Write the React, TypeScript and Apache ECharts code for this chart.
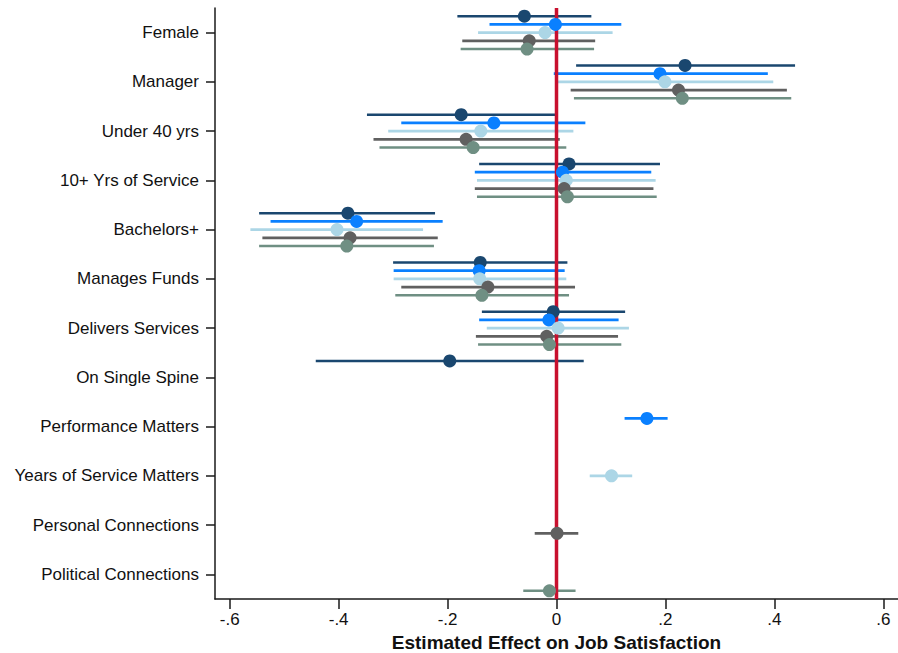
import React, { useEffect, useRef } from "react";
import * as echarts from "echarts";

const categories = [
  "Female",
  "Manager",
  "Under 40 yrs",
  "10+ Yrs of Service",
  "Bachelors+",
  "Manages Funds",
  "Delivers Services",
  "On Single Spine",
  "Performance Matters",
  "Years of Service Matters",
  "Personal Connections",
  "Political Connections",
];

const xTickValues = [-0.6, -0.4, -0.2, 0, 0.2, 0.4, 0.6];
const axisTitle = "Estimated Effect on Job Satisfaction";

const seriesNames = ["Model 1", "Model 2", "Model 3", "Model 4", "Model 5"];

// Model 1 (navy)
const m1Est = [-0.059, 0.236, -0.175, 0.023, -0.383, -0.14, -0.006, -0.196, null, null, null, null];
const m1Lo = [-0.182, 0.036, -0.348, -0.142, -0.546, -0.3, -0.137, -0.442, null, null, null, null];
const m1Hi = [0.064, 0.438, -0.002, 0.19, -0.223, 0.02, 0.126, 0.05, null, null, null, null];

// Model 2 (bright blue)
const m2Est = [-0.002, 0.19, -0.115, 0.011, -0.367, -0.142, -0.014, null, 0.166, null, null, null];
const m2Lo = [-0.123, -0.005, -0.285, -0.15, -0.525, -0.299, -0.142, null, 0.125, null, null, null];
const m2Hi = [0.119, 0.388, 0.053, 0.174, -0.209, 0.015, 0.114, null, 0.204, null, null, null];

// Model 3 (light blue)
const m3Est = [-0.021, 0.199, -0.139, 0.018, -0.403, -0.141, 0.003, null, null, 0.101, null, null];
const m3Lo = [-0.144, 0.0, -0.309, -0.146, -0.562, -0.299, -0.128, null, null, 0.061, null, null];
const m3Hi = [0.103, 0.398, 0.031, 0.182, -0.245, 0.018, 0.133, null, null, 0.139, null, null];

// Model 4 (dark gray)
const m4Est = [-0.05, 0.224, -0.166, 0.014, -0.379, -0.126, -0.018, null, null, null, 0.001, null];
const m4Lo = [-0.173, 0.026, -0.336, -0.15, -0.54, -0.285, -0.148, null, null, null, -0.04, null];
const m4Hi = [0.071, 0.423, 0.006, 0.178, -0.218, 0.034, 0.113, null, null, null, 0.04, null];

// Model 5 (gray-green)
const m5Est = [-0.054, 0.231, -0.153, 0.02, -0.385, -0.137, -0.013, null, null, null, null, -0.013];
const m5Lo = [-0.176, 0.032, -0.325, -0.146, -0.546, -0.296, -0.144, null, null, null, null, -0.061];
const m5Hi = [0.069, 0.431, 0.018, 0.184, -0.225, 0.023, 0.119, null, null, null, null, 0.035];

const estimates = [m1Est, m2Est, m3Est, m4Est, m5Est];
const lows = [m1Lo, m2Lo, m3Lo, m4Lo, m5Lo];
const highs = [m1Hi, m2Hi, m3Hi, m4Hi, m5Hi];

const colors = ["#1a476f", "#0a80ff", "#acd6e6", "#606060", "#6f8f83"];
const refColor = "#c8102e";
const font = "'Liberation Sans', Arial, Helvetica, sans-serif";

function fmtTick(v: number): string {
  if (Math.abs(v) < 1e-9) return "0";
  const s = v.toFixed(1);
  return s.replace("0.", ".");
}

export default function App() {
  const ref = useRef<HTMLDivElement>(null);

  useEffect(() => {
    if (!ref.current) return;
    const chart = echarts.init(ref.current, undefined, { renderer: "svg" });

    const series: any[] = [];

    // reference line at zero
    series.push({
      type: "line",
      xAxisIndex: 0,
      yAxisIndex: 1,
      data: [
        [0, -0.5],
        [0, categories.length - 0.5],
      ],
      showSymbol: false,
      silent: true,
      lineStyle: { color: refColor, width: 3.5 },
      z: 3,
    });

    estimates.forEach((est, k) => {
      const offset = (k - 2) / 6;
      const ciData: any[] = [];
      const ptData: any[] = [];
      est.forEach((v, i) => {
        if (v === null || v === undefined) return;
        ciData.push([lows[k][i], highs[k][i], i + offset]);
        ptData.push([v, i + offset]);
      });
      series.push({
        name: seriesNames[k] + " CI",
        type: "custom",
        xAxisIndex: 0,
        yAxisIndex: 1,
        data: ciData,
        encode: { x: [0, 1], y: 2 },
        silent: true,
        z: 2,
        renderItem: (params: any, api: any) => {
          const y = api.value(2);
          const p1 = api.coord([api.value(0), y]);
          const p2 = api.coord([api.value(1), y]);
          return {
            type: "line",
            shape: { x1: p1[0], y1: p1[1], x2: p2[0], y2: p2[1] },
            style: { stroke: colors[k], lineWidth: 2.6 },
          };
        },
      });
      series.push({
        name: seriesNames[k],
        type: "scatter",
        xAxisIndex: 0,
        yAxisIndex: 1,
        data: ptData,
        symbol: "circle",
        symbolSize: 13,
        itemStyle: { color: colors[k], opacity: 1 },
        silent: true,
        z: 4,
      });
    });

    chart.setOption({
      animation: false,
      backgroundColor: "#ffffff",
      textStyle: { fontFamily: font },
      grid: { left: 215, right: 0, top: 8, bottom: 54, containLabel: false, outerBoundsMode: "none" },
      xAxis: [
        {
          type: "value",
          min: -0.627,
          max: 0.627,
          splitLine: { show: false },
          axisLine: { show: true, onZero: false, lineStyle: { color: "#1a1a1a", width: 1.5 } },
          axisTick: { show: true, length: 10, customValues: xTickValues, lineStyle: { color: "#1a1a1a", width: 1.5 } },
          axisLabel: {
            customValues: xTickValues,
            formatter: (v: number) => fmtTick(v),
            fontSize: 17,
            color: "#111",
            margin: 12,
            fontFamily: font,
          },
          name: axisTitle,
          nameLocation: "middle",
          nameGap: 34,
          nameTextStyle: { fontSize: 19, fontWeight: "bold", color: "#111", fontFamily: font },
        },
      ],
      yAxis: [
        {
          type: "category",
          data: categories,
          inverse: true,
          boundaryGap: true,
          axisLine: { show: true, onZero: false, lineStyle: { color: "#1a1a1a", width: 1.5 } },
          axisTick: { show: true, alignWithLabel: true, length: 9, lineStyle: { color: "#1a1a1a", width: 1.5 } },
          axisLabel: { fontSize: 17, color: "#111", margin: 16, fontFamily: font, padding: [3, 0, 0, 0] },
          splitLine: { show: false },
        },
        {
          type: "value",
          min: -0.5,
          max: categories.length - 0.5,
          inverse: true,
          show: false,
          splitLine: { show: false },
        },
      ],
      series,
    });

    return () => chart.dispose();
  }, []);

  return (
    <div
      ref={ref}
      style={{ position: "fixed", left: 0, top: 0, width: 898, height: 653, background: "#fff" }}
    />
  );
}
